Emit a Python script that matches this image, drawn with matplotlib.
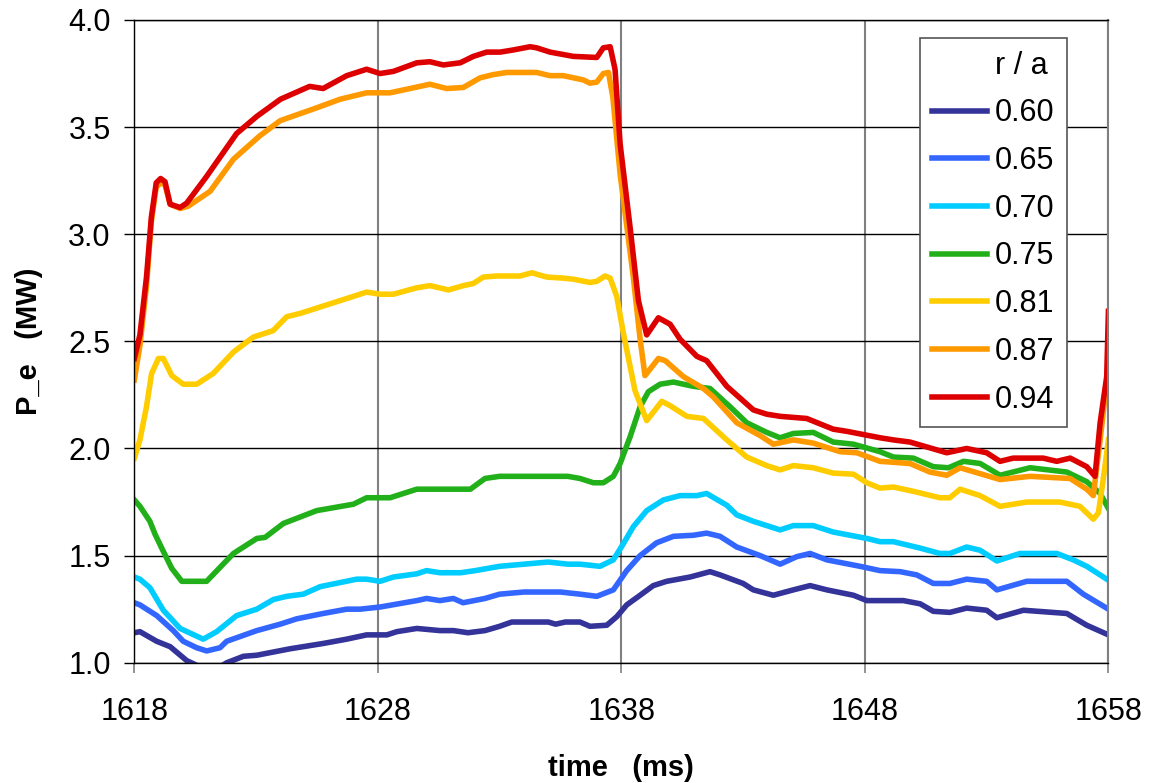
import numpy as np
import matplotlib
matplotlib.use("Agg")
import matplotlib.pyplot as plt
from matplotlib.lines import Line2D

# electron heating power profiles at several radii, read per channel
t_060 = [1618.0, 1618.23, 1618.92, 1619.47, 1620.15, 1620.9, 1621.5, 1621.8, 1622.48, 1623.03,
         1624.39, 1625.76, 1626.72, 1627.54, 1628.37, 1628.78, 1629.6, 1630.55, 1631.1, 1631.7,
         1632.4, 1633.0, 1633.5, 1635.0, 1635.3, 1635.7, 1636.3, 1636.71, 1637.4, 1637.81,
         1638.22, 1638.77, 1639.31, 1639.86, 1640.82, 1641.64, 1642.05, 1643.0, 1643.42, 1644.24,
         1645.06, 1645.75, 1646.44, 1647.53, 1648.08, 1649.58, 1650.27, 1650.81, 1651.49, 1652.18,
         1653.0, 1653.42, 1654.51, 1656.29, 1657.11, 1658.0]
p_060 = [1.14, 1.145, 1.10, 1.075, 1.01, 0.97, 0.98, 1.0, 1.03, 1.035,
         1.065, 1.09, 1.11, 1.13, 1.13, 1.145, 1.16, 1.15, 1.15, 1.14,
         1.15, 1.17, 1.19, 1.19, 1.18, 1.19, 1.19, 1.17, 1.175, 1.215,
         1.27, 1.315, 1.36, 1.38, 1.40, 1.425, 1.41, 1.37, 1.34, 1.315,
         1.34, 1.36, 1.34, 1.315, 1.29, 1.29, 1.275, 1.24, 1.235, 1.255,
         1.245, 1.21, 1.245, 1.23, 1.175, 1.13]

t_065 = [1618.0, 1618.23, 1618.92, 1619.6, 1620.01, 1620.56, 1620.97, 1621.52, 1621.79, 1623.03,
         1623.99, 1624.67, 1625.76, 1626.72, 1627.27, 1628.09, 1629.6, 1630.0, 1630.55, 1631.1,
         1631.5, 1632.4, 1633.0, 1634.0, 1635.5, 1636.3, 1636.99, 1637.67, 1638.22, 1638.77,
         1639.45, 1640.14, 1640.96, 1641.5, 1642.05, 1642.74, 1643.7, 1644.52, 1645.2, 1645.75,
         1646.44, 1647.8, 1648.62, 1649.45, 1650.13, 1650.81, 1651.49, 1652.18, 1653.0, 1653.42,
         1654.65, 1656.29, 1656.97, 1658.0]
p_065 = [1.28, 1.27, 1.22, 1.15, 1.10, 1.07, 1.055, 1.07, 1.10, 1.15,
         1.18, 1.205, 1.23, 1.25, 1.25, 1.26, 1.29, 1.30, 1.29, 1.30,
         1.28, 1.30, 1.32, 1.33, 1.33, 1.32, 1.31, 1.34, 1.43, 1.50,
         1.56, 1.59, 1.595, 1.605, 1.59, 1.54, 1.50, 1.46, 1.495, 1.51,
         1.48, 1.45, 1.43, 1.425, 1.41, 1.37, 1.37, 1.39, 1.38, 1.34,
         1.38, 1.38, 1.32, 1.25]

t_070 = [1618.0, 1618.23, 1618.64, 1619.19, 1619.88, 1620.83, 1621.38, 1622.2, 1623.03, 1623.71,
         1624.26, 1624.94, 1625.63, 1627.13, 1627.54, 1628.09, 1628.64, 1629.6, 1630.0, 1630.55,
         1631.4, 1632.0, 1633.0, 1634.0, 1635.0, 1635.8, 1636.3, 1637.12, 1637.67, 1638.08,
         1638.49, 1639.04, 1639.73, 1640.41, 1641.1, 1641.5, 1642.33, 1642.74, 1643.42, 1643.97,
         1644.52, 1645.06, 1645.88, 1646.7, 1648.08, 1648.62, 1649.17, 1650.27, 1651.08, 1651.49,
         1652.18, 1652.73, 1653.42, 1654.37, 1655.88, 1656.56, 1657.11, 1658.0]
p_070 = [1.40, 1.39, 1.35, 1.245, 1.16, 1.11, 1.145, 1.22, 1.25, 1.295,
         1.31, 1.32, 1.355, 1.39, 1.39, 1.38, 1.40, 1.415, 1.43, 1.42,
         1.42, 1.43, 1.45, 1.46, 1.47, 1.46, 1.46, 1.45, 1.48, 1.555,
         1.635, 1.71, 1.76, 1.78, 1.78, 1.79, 1.735, 1.69, 1.66, 1.64,
         1.62, 1.64, 1.64, 1.61, 1.58, 1.565, 1.565, 1.535, 1.51, 1.51,
         1.54, 1.525, 1.475, 1.51, 1.51, 1.48, 1.45, 1.385]

t_075 = [1618.0, 1618.23, 1618.64, 1618.85, 1619.19, 1619.54, 1619.95, 1620.97, 1622.07, 1623.03,
         1623.37, 1624.12, 1625.49, 1627.0, 1627.54, 1628.5, 1629.05, 1629.6, 1630.55, 1631.8,
         1632.4, 1633.0, 1635.8, 1636.3, 1636.85, 1637.26, 1637.67, 1637.95, 1638.36, 1638.77,
         1639.11, 1639.59, 1640.14, 1640.96, 1641.64, 1642.46, 1643.15, 1643.97, 1644.52, 1645.06,
         1645.88, 1646.7, 1647.53, 1648.62, 1649.17, 1649.99, 1650.81, 1651.43, 1652.05, 1652.73,
         1653.55, 1654.78, 1656.29, 1657.11, 1657.66, 1658.0]
p_075 = [1.76, 1.73, 1.66, 1.60, 1.52, 1.44, 1.38, 1.38, 1.51, 1.58,
         1.585, 1.65, 1.71, 1.74, 1.77, 1.77, 1.79, 1.81, 1.81, 1.81,
         1.86, 1.87, 1.87, 1.86, 1.84, 1.84, 1.87, 1.93, 2.055, 2.195,
         2.265, 2.30, 2.31, 2.29, 2.28, 2.195, 2.12, 2.075, 2.05, 2.07,
         2.075, 2.03, 2.02, 1.985, 1.96, 1.955, 1.915, 1.91, 1.94, 1.93,
         1.875, 1.91, 1.89, 1.845, 1.79, 1.72]

t_081 = [1618.0, 1618.23, 1618.5, 1618.71, 1618.99, 1619.19, 1619.54, 1620.01, 1620.56, 1621.24,
         1622.07, 1622.89, 1623.7, 1624.26, 1624.8, 1625.9, 1627.0, 1627.54, 1628.09, 1628.64,
         1629.6, 1630.14, 1630.9, 1631.51, 1631.92, 1632.33, 1632.88, 1633.84, 1634.32, 1634.94,
         1635.62, 1636.03, 1636.71, 1636.99, 1637.33, 1637.54, 1637.81, 1638.08, 1638.56, 1639.04,
         1639.66, 1640.0, 1640.69, 1641.37, 1642.33, 1643.15, 1643.97, 1644.52, 1645.06, 1645.88,
         1646.7, 1647.53, 1648.08, 1648.62, 1649.17, 1649.99, 1651.08, 1651.49, 1651.91, 1652.73,
         1653.55, 1654.65, 1656.0, 1656.83, 1657.38, 1657.59, 1657.78, 1658.0]
p_081 = [1.955, 2.04, 2.195, 2.35, 2.42, 2.42, 2.34, 2.30, 2.30, 2.35,
         2.45, 2.52, 2.55, 2.615, 2.63, 2.67, 2.71, 2.73, 2.72, 2.72,
         2.75, 2.76, 2.74, 2.76, 2.77, 2.80, 2.805, 2.805, 2.82, 2.80,
         2.795, 2.79, 2.775, 2.78, 2.805, 2.795, 2.71, 2.54, 2.27, 2.13,
         2.22, 2.20, 2.15, 2.14, 2.04, 1.96, 1.92, 1.90, 1.92, 1.91,
         1.885, 1.88, 1.84, 1.815, 1.82, 1.80, 1.77, 1.77, 1.81, 1.78,
         1.73, 1.75, 1.75, 1.73, 1.67, 1.70, 1.85, 2.04]

t_087 = [1618.0, 1618.23, 1618.5, 1618.7, 1618.9, 1619.08, 1619.26, 1619.47, 1619.88, 1620.2,
         1621.11, 1622.07, 1623.16, 1623.99, 1625.49, 1626.45, 1627.54, 1628.5, 1629.73, 1630.14,
         1630.83, 1631.51, 1632.2, 1632.74, 1633.29, 1634.52, 1635.07, 1635.62, 1636.44, 1636.71,
         1636.99, 1637.26, 1637.47, 1637.65, 1637.95, 1638.49, 1638.77, 1638.97, 1639.52, 1639.8,
         1640.55, 1641.37, 1641.78, 1642.74, 1643.7, 1644.24, 1645.06, 1645.88, 1646.98, 1647.67,
         1648.62, 1649.85, 1650.67, 1651.36, 1651.91, 1653.55, 1654.78, 1656.43, 1657.11, 1657.38,
         1657.66, 1658.0]
p_087 = [2.32, 2.48, 2.76, 3.06, 3.22, 3.24, 3.23, 3.14, 3.12, 3.13,
         3.20, 3.35, 3.46, 3.53, 3.59, 3.63, 3.66, 3.66, 3.69, 3.70,
         3.68, 3.685, 3.73, 3.745, 3.755, 3.755, 3.74, 3.74, 3.72, 3.705,
         3.71, 3.75, 3.755, 3.64, 3.28, 2.80, 2.51, 2.34, 2.42, 2.41,
         2.335, 2.28, 2.24, 2.12, 2.06, 2.02, 2.04, 2.025, 1.985, 1.98,
         1.94, 1.93, 1.89, 1.875, 1.91, 1.855, 1.87, 1.86, 1.81, 1.78,
         2.04, 2.38]

t_094 = [1618.0, 1618.23, 1618.5, 1618.7, 1618.9, 1619.08, 1619.26, 1619.47, 1619.88, 1620.15,
         1620.97, 1622.2, 1623.03, 1624.0, 1625.2, 1625.75, 1626.72, 1627.54, 1628.09, 1628.64,
         1629.6, 1630.14, 1630.69, 1631.38, 1631.92, 1632.47, 1633.02, 1633.56, 1634.25, 1634.52,
         1635.07, 1636.03, 1636.99, 1637.26, 1637.54, 1637.74, 1637.95, 1638.36, 1638.7, 1639.04,
         1639.52, 1640.0, 1640.41, 1641.1, 1641.5, 1642.33, 1643.42, 1643.97, 1644.52, 1645.61,
         1646.7, 1647.26, 1648.62, 1649.17, 1649.85, 1651.36, 1652.18, 1653.0, 1653.55, 1654.09,
         1655.32, 1655.88, 1656.43, 1657.11, 1657.45, 1657.66, 1657.93, 1658.0]
p_094 = [2.42, 2.53, 2.80, 3.08, 3.24, 3.26, 3.245, 3.14, 3.125, 3.145,
         3.27, 3.47, 3.55, 3.63, 3.69, 3.68, 3.74, 3.77, 3.75, 3.76,
         3.80, 3.805, 3.79, 3.80, 3.83, 3.85, 3.85, 3.86, 3.875, 3.87,
         3.85, 3.83, 3.825, 3.87, 3.875, 3.77, 3.42, 3.03, 2.69, 2.53,
         2.61, 2.58, 2.51, 2.43, 2.41, 2.29, 2.18, 2.16, 2.15, 2.14,
         2.09, 2.08, 2.05, 2.04, 2.03, 1.98, 2.00, 1.98, 1.94, 1.955,
         1.955, 1.94, 1.955, 1.915, 1.87, 2.12, 2.335, 2.64]

radii = ["0.60", "0.65", "0.70", "0.75", "0.81", "0.87", "0.94"]
times = [t_060, t_065, t_070, t_075, t_081, t_087, t_094]
powers = [p_060, p_065, p_070, p_075, p_081, p_087, p_094]
colors = ["#333399", "#3366ff", "#00ccff", "#22b01a", "#ffcc00", "#ff9900", "#dd0000"]

plt.rcParams['font.family'] = ['Liberation Sans', 'DejaVu Sans']
plt.rcParams['font.size'] = 22

fig = plt.figure(figsize=(11.51, 7.83), dpi=100)
ax = fig.add_axes([0.1167, 0.1536, 0.8463, 0.8209])

for t, p, c, r in zip(times, powers, colors, radii):
    ax.plot(t, p, "-", color=c, linewidth=4.0, label=r, solid_joinstyle="round")

ax.set_xlim(1618, 1658)
ax.set_ylim(1.0, 4.0)
ax.set_xticks(np.arange(1618, 1659, 10))
ax.set_yticks(np.arange(1.0, 4.01, 0.5))
ax.yaxis.set_major_formatter(matplotlib.ticker.FormatStrFormatter("%.1f"))

# horizontal grid black, vertical grid gray
ax.yaxis.grid(True, color="black", linewidth=1.0)
ax.xaxis.grid(True, color="#808080", linewidth=1.5)
ax.set_axisbelow(True)
ax.tick_params(axis="x", direction="out", length=7, width=1.2, color="#808080", pad=18)
ax.tick_params(axis="y", direction="out", length=7, width=1.0, color="black", pad=10)
for side in ["left", "bottom", "top"]:
    ax.spines[side].set_color("black")
    ax.spines[side].set_linewidth(1.0)
ax.spines["right"].set_color("#808080")
ax.spines["right"].set_linewidth(1.5)

ax.set_xlabel("time   (ms)", fontweight="bold", fontsize=21, labelpad=19)
ax.set_ylabel("P_e   (MW)", fontweight="bold", fontsize=21, labelpad=18)

handles = [Line2D([], [], color="none")] + ax.get_lines()
labels = ["r / a"] + radii
leg = ax.legend(handles, labels, loc="upper left", bbox_to_anchor=(920 / 1151, 1 - 38.3 / 783),
                bbox_transform=fig.transFigure, borderaxespad=0, frameon=True, fancybox=False,
                framealpha=1, edgecolor="#555555", handlelength=1.8, handletextpad=0.25,
                labelspacing=0.58, borderpad=0.4)
leg.get_frame().set_linewidth(1.2)

plt.savefig("out.png", dpi=100)
